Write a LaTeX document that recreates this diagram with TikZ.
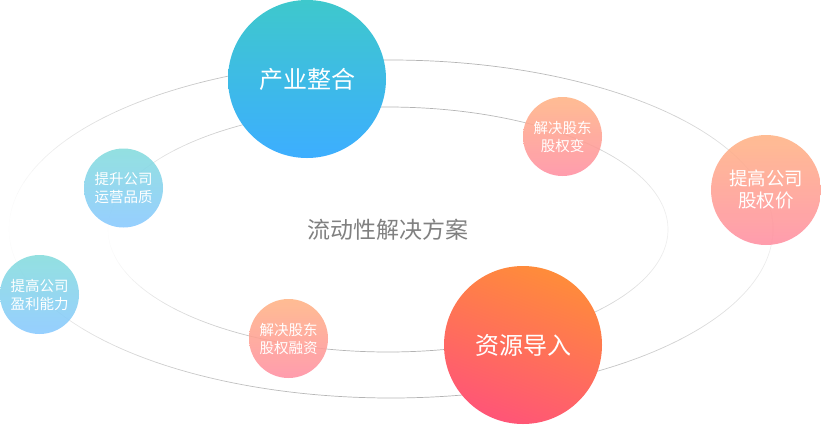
\documentclass[tikz,border=0pt]{standalone}
\usepackage{fontspec}
\newfontfamily\cjk{Noto Sans CJK SC}
\definecolor{tealtop}{HTML}{3EC8CC}
\definecolor{bluebot}{HTML}{3DAEFF}
\definecolor{ltealtop}{HTML}{84DCDC}
\definecolor{lbluebot}{HTML}{88C8FF}
\definecolor{peachtop}{HTML}{FFB384}
\definecolor{pinkbot}{HTML}{FF8FA2}
\definecolor{orangetop}{HTML}{FF8C3A}
\definecolor{redbot}{HTML}{FF5577}
\definecolor{orbitcol}{HTML}{8F8F8F}
\definecolor{titlecol}{HTML}{808080}
\begin{document}
\begin{tikzpicture}[x=1pt,y=-1pt,
  orbit/.style={draw=orbitcol, line width=0.7pt},
  bigc/.style={circle, minimum size=158pt, inner sep=0pt, text=white,
    font=\cjk\fontsize{24}{28}\selectfont},
  smallc/.style={circle, minimum size=79pt, inner sep=0pt, align=center, text=white,
    font=\cjk\fontsize{14.5}{18}\selectfont, fill opacity=0.88, text opacity=1},
  midc/.style={circle, minimum size=110pt, inner sep=0pt, align=center, text=white,
    font=\cjk\fontsize{18.5}{22}\selectfont, fill opacity=0.88, text opacity=1},
  blueg/.style={top color=tealtop, bottom color=bluebot},
  lblueg/.style={top color=ltealtop, bottom color=lbluebot},
  pinkg/.style={top color=peachtop, bottom color=pinkbot},
  redg/.style={top color=orangetop, bottom color=redbot, shading angle=-20},
  title/.style={text=titlecol, font=\cjk\fontsize{23}{28}\selectfont}
]
\useasboundingbox (0,0) rectangle (821,424);
% orbits
\foreach \a in {0,4,...,356}{
  \pgfmathsetmacro\op{0.02+0.65*(sin(\a+2))^2+0.12*max(cos(\a+2),0)}
  \draw[orbit, draw opacity=\op] plot[domain=\a:\a+4, samples=4] ({391+382*cos(\x)},{229+169*sin(\x)});
  \draw[orbit, draw opacity=\op] plot[domain=\a:\a+4, samples=4] ({388+280*cos(\x)},{229.5+122.5*sin(\x)});
}
% title
\node[title] (t) at (387.5,230) {流动性解决方案};
% small circles
\node[smallc, lblueg] (b) at (123.5,188) {提升公司\\运营品质};
\node[smallc, lblueg] (c) at (39.5,294.5) {提高公司\\盈利能力};
\node[smallc, pinkg] (d) at (288.5,338.5) {解决股东\\股权融资};
\node[smallc, pinkg] (f) at (562.5,136.5) {解决股东\\股权变};
\node[midc, pinkg] (g) at (766,190) {提高公司\\股权价};
% big circles
\node[bigc, blueg] (a) at (307,79) {产业整合};
\node[bigc, redg] (e) at (523,345) {资源导入};
\end{tikzpicture}
\end{document}
